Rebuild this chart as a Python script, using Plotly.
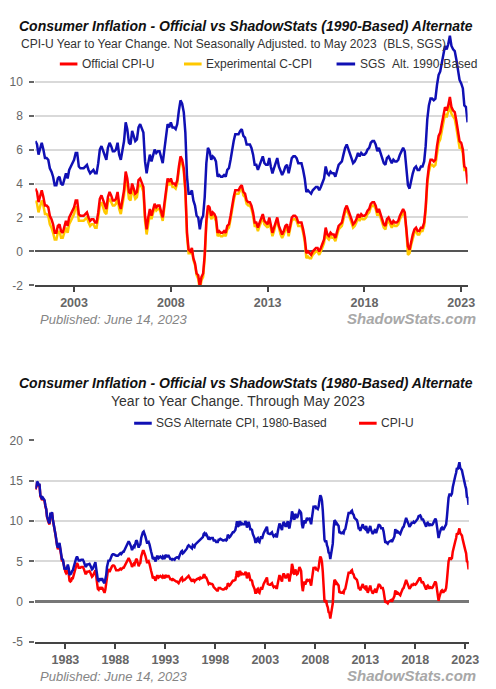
import plotly.graph_objects as go
import pandas as pd

# ---------------- DATA ----------------
# Official CPI-U, year-to-year % change, monthly Jan 1980 .. May 2023
cpi_u = [
    13.9, 14.2, 14.8, 14.7, 14.4, 14.4, 13.1, 12.9, 12.6, 12.8, 12.6, 12.5,  # 1980
    11.8, 11.4, 10.5, 10.0, 9.8, 9.6, 10.8, 10.8, 11.0, 10.1, 9.6, 8.9,      # 1981
    8.4, 7.6, 6.8, 6.5, 6.7, 7.1, 6.4, 5.9, 5.0, 5.1, 4.6, 3.8,              # 1982
    3.7, 3.5, 3.6, 3.9, 3.5, 2.6, 2.5, 2.6, 2.9, 2.9, 3.3, 3.8,              # 1983
    4.2, 4.6, 4.8, 4.6, 4.2, 4.2, 4.2, 4.3, 4.3, 4.3, 4.1, 3.9,              # 1984
    3.5, 3.5, 3.7, 3.7, 3.8, 3.8, 3.6, 3.3, 3.1, 3.2, 3.5, 3.8,              # 1985
    3.9, 3.1, 2.2, 1.6, 1.5, 1.8, 1.6, 1.6, 1.8, 1.5, 1.3, 1.1,              # 1986
    1.5, 2.1, 3.0, 3.8, 3.9, 3.7, 3.9, 4.3, 4.4, 4.5, 4.5, 4.4,              # 1987
    4.0, 3.9, 3.9, 3.9, 3.9, 4.0, 4.1, 4.0, 4.2, 4.2, 4.2, 4.4,              # 1988
    4.7, 4.8, 5.0, 5.1, 5.4, 5.2, 5.0, 4.7, 4.3, 4.5, 4.7, 4.6,              # 1989
    5.2, 5.3, 5.2, 4.7, 4.4, 4.7, 4.8, 5.6, 6.2, 6.3, 6.3, 6.1,              # 1990
    5.7, 5.3, 4.9, 4.9, 5.0, 4.7, 4.4, 3.8, 3.4, 2.9, 3.0, 3.1,              # 1991
    2.6, 2.8, 3.2, 3.2, 3.0, 3.1, 3.2, 3.1, 3.0, 3.2, 3.0, 2.9,              # 1992
    3.3, 3.2, 3.1, 3.2, 3.2, 3.0, 2.8, 2.8, 2.7, 2.8, 2.7, 2.7,              # 1993
    2.5, 2.5, 2.5, 2.4, 2.3, 2.5, 2.8, 2.9, 3.0, 2.6, 2.7, 2.7,              # 1994
    2.8, 2.9, 2.9, 3.1, 3.2, 3.0, 2.8, 2.6, 2.5, 2.8, 2.6, 2.5,              # 1995
    2.7, 2.7, 2.8, 2.9, 2.9, 2.8, 3.0, 2.9, 3.0, 3.0, 3.3, 3.3,              # 1996
    3.0, 3.0, 2.8, 2.5, 2.2, 2.3, 2.2, 2.2, 2.2, 2.1, 1.8, 1.7,              # 1997
    1.6, 1.4, 1.4, 1.4, 1.7, 1.7, 1.7, 1.6, 1.5, 1.5, 1.5, 1.6,              # 1998
    1.7, 1.6, 1.7, 2.3, 2.1, 2.0, 2.1, 2.3, 2.6, 2.6, 2.6, 2.7,              # 1999
    2.7, 3.2, 3.8, 3.1, 3.2, 3.7, 3.7, 3.4, 3.5, 3.4, 3.4, 3.4,              # 2000
    3.7, 3.5, 2.9, 3.3, 3.6, 3.2, 2.7, 2.7, 2.6, 2.1, 1.9, 1.6,              # 2001
    1.1, 1.1, 1.5, 1.6, 1.2, 1.1, 1.5, 1.8, 1.5, 2.0, 2.2, 2.4,              # 2002
    2.6, 3.0, 3.0, 2.2, 2.1, 2.1, 2.1, 2.2, 2.3, 2.0, 1.8, 1.9,              # 2003
    1.9, 1.7, 1.7, 2.3, 3.1, 3.3, 3.0, 2.7, 2.5, 3.2, 3.5, 3.3,              # 2004
    3.0, 3.0, 3.1, 3.5, 2.8, 2.5, 3.2, 3.6, 4.7, 4.3, 3.5, 3.4,              # 2005
    4.0, 3.6, 3.4, 3.5, 4.2, 4.3, 4.1, 3.8, 2.1, 1.3, 2.0, 2.5,              # 2006
    2.1, 2.4, 2.8, 2.6, 2.7, 2.7, 2.4, 2.0, 2.8, 3.5, 4.3, 4.1,              # 2007
    4.3, 4.0, 4.0, 3.9, 4.2, 5.0, 5.6, 5.4, 4.9, 3.7, 1.1, 0.1,              # 2008
    0.0, 0.2, -0.4, -0.7, -1.3, -1.4, -2.1, -1.5, -1.3, -0.2, 1.8, 2.7,      # 2009
    2.6, 2.1, 2.3, 2.2, 2.0, 1.1, 1.2, 1.1, 1.1, 1.2, 1.1, 1.5,              # 2010
    1.6, 2.1, 2.7, 3.2, 3.6, 3.6, 3.6, 3.8, 3.9, 3.5, 3.4, 3.0,              # 2011
    2.9, 2.9, 2.7, 2.3, 1.7, 1.7, 1.4, 1.7, 2.0, 2.2, 1.8, 1.7,              # 2012
    1.6, 2.0, 1.5, 1.1, 1.4, 1.8, 2.0, 1.5, 1.2, 1.0, 1.2, 1.5,              # 2013
    1.6, 1.1, 1.5, 2.0, 2.1, 2.1, 2.0, 1.7, 1.7, 1.7, 1.3, 0.8,              # 2014
    -0.1, 0.0, -0.1, -0.2, 0.0, 0.1, 0.2, 0.2, 0.0, 0.2, 0.5, 0.7,           # 2015
    1.4, 1.0, 0.9, 1.1, 1.0, 1.0, 0.8, 1.1, 1.5, 1.6, 1.7, 2.1,              # 2016
    2.5, 2.7, 2.4, 2.2, 1.9, 1.6, 1.7, 1.9, 2.2, 2.0, 2.2, 2.1,              # 2017
    2.1, 2.2, 2.4, 2.5, 2.8, 2.9, 2.9, 2.7, 2.3, 2.5, 2.2, 1.9,              # 2018
    1.6, 1.5, 1.9, 2.0, 1.8, 1.6, 1.8, 1.7, 1.7, 1.8, 2.1, 2.3,              # 2019
    2.5, 2.3, 1.5, 0.3, 0.1, 0.6, 1.0, 1.3, 1.4, 1.2, 1.2, 1.4,              # 2020
    1.4, 1.7, 2.6, 4.2, 5.0, 5.4, 5.4, 5.3, 5.4, 6.2, 6.8, 7.0,              # 2021
    7.5, 7.9, 8.5, 8.3, 8.6, 9.1, 8.5, 8.3, 8.2, 7.7, 7.1, 6.5,              # 2022
    6.4, 6.0, 5.0, 4.9, 4.0,                                                 # 2023
]

# SGS Alternate CPI, 1980-Based, monthly Jan 1980 .. May 2023
sgs_1980 = [
    14.0, 14.3, 14.9, 14.8, 14.5, 14.5, 13.2, 13.0, 12.7, 12.9, 12.7, 12.6,  # 1980
    11.9, 11.5, 10.6, 10.1, 9.9, 9.7, 10.9, 10.9, 11.1, 10.2, 9.7, 9.0,      # 1981
    8.6, 7.8, 7.0, 6.7, 6.9, 7.3, 6.6, 6.1, 5.2, 5.3, 4.8, 4.0,              # 1982
    4.2, 4.0, 4.2, 4.6, 4.2, 3.4, 3.4, 3.5, 3.8, 3.9, 4.3, 4.8,              # 1983
    5.0, 5.4, 5.6, 5.4, 5.1, 5.1, 5.1, 5.2, 5.2, 5.2, 5.0, 4.8,              # 1984
    4.4, 4.4, 4.6, 4.6, 4.7, 4.7, 4.5, 4.2, 4.0, 4.1, 4.4, 4.7,              # 1985
    4.9, 4.1, 3.3, 2.7, 2.6, 2.9, 2.7, 2.7, 2.9, 2.6, 2.4, 2.3,              # 1986
    2.7, 3.3, 4.3, 5.1, 5.2, 5.0, 5.3, 5.7, 5.8, 5.9, 5.9, 5.8,              # 1987
    5.8, 5.7, 5.7, 5.7, 5.8, 5.9, 6.0, 5.9, 6.1, 6.2, 6.2, 6.4,              # 1988
    6.7, 6.8, 7.1, 7.2, 7.5, 7.3, 7.1, 6.8, 6.4, 6.6, 6.9, 6.8,              # 1989
    7.5, 7.6, 7.5, 7.0, 6.7, 7.0, 7.1, 7.9, 8.5, 8.6, 8.7, 8.5,              # 1990
    8.1, 7.7, 7.3, 7.3, 7.4, 7.1, 6.8, 6.2, 5.8, 5.3, 5.4, 5.5,              # 1991
    5.0, 5.2, 5.6, 5.6, 5.4, 5.5, 5.6, 5.5, 5.4, 5.6, 5.4, 5.3,              # 1992
    5.8, 5.7, 5.6, 5.7, 5.7, 5.5, 5.3, 5.3, 5.2, 5.3, 5.2, 5.2,              # 1993
    5.4, 5.5, 5.5, 5.5, 5.4, 5.7, 6.0, 6.2, 6.3, 6.0, 6.1, 6.2,              # 1994
    6.4, 6.5, 6.6, 6.9, 7.0, 6.9, 6.8, 6.6, 6.6, 7.0, 6.8, 6.8,              # 1995
    7.1, 7.2, 7.4, 7.5, 7.6, 7.6, 7.8, 7.8, 8.0, 8.0, 8.4, 8.5,              # 1996
    8.3, 8.4, 8.2, 8.0, 7.7, 7.9, 7.8, 7.9, 7.9, 7.9, 7.6, 7.6,              # 1997
    7.6, 7.4, 7.4, 7.4, 7.7, 7.7, 7.8, 7.7, 7.6, 7.6, 7.6, 7.7,              # 1998
    7.7, 7.6, 7.7, 8.3, 8.1, 8.0, 8.1, 8.3, 8.6, 8.6, 8.6, 8.7,              # 1999
    8.9, 9.4, 10.0, 9.3, 9.4, 9.9, 9.9, 9.6, 9.7, 9.6, 9.6, 9.6,             # 2000
    10.0, 9.8, 9.2, 9.6, 9.9, 9.5, 9.0, 9.0, 8.9, 8.4, 8.2, 7.9,             # 2001
    7.4, 7.4, 7.8, 7.9, 7.5, 7.4, 7.8, 8.1, 7.8, 8.3, 8.5, 8.7,              # 2002
    8.9, 9.3, 9.3, 8.5, 8.4, 8.4, 8.4, 8.5, 8.6, 8.3, 8.1, 8.2,              # 2003
    8.3, 8.1, 8.1, 8.7, 9.5, 9.7, 9.4, 9.1, 8.9, 9.6, 9.9, 9.7,              # 2004
    9.4, 9.4, 9.6, 10.0, 9.3, 9.1, 9.8, 10.2, 11.2, 10.9, 10.3, 10.2,        # 2005
    10.9, 10.6, 10.4, 10.6, 11.2, 11.3, 11.2, 11.0, 9.6, 9.1, 9.6, 10.1,     # 2006
    9.7, 10.0, 10.4, 10.2, 10.3, 10.3, 10.0, 9.6, 10.4, 11.1, 11.9, 11.7,    # 2007
    11.9, 11.6, 11.6, 11.5, 11.8, 12.6, 13.2, 13.0, 12.5, 11.3, 8.7, 7.7,    # 2008
    7.4, 7.6, 7.0, 6.7, 6.1, 6.0, 5.3, 5.9, 6.1, 7.2, 9.2, 10.1,             # 2009
    10.0, 9.5, 9.7, 9.6, 9.4, 8.5, 8.6, 8.5, 8.5, 8.6, 8.5, 8.9,             # 2010
    9.0, 9.5, 10.1, 10.6, 11.0, 11.0, 11.0, 11.2, 11.3, 10.9, 10.8, 10.4,    # 2011
    10.3, 10.3, 10.1, 9.7, 9.1, 9.1, 8.8, 9.1, 9.4, 9.6, 9.2, 9.1,           # 2012
    9.0, 9.4, 8.9, 8.5, 8.8, 9.2, 9.4, 8.9, 8.6, 8.4, 8.6, 8.9,              # 2013
    9.0, 8.5, 8.9, 9.4, 9.5, 9.5, 9.4, 9.1, 9.1, 9.1, 8.7, 8.2,              # 2014
    7.3, 7.4, 7.3, 7.2, 7.4, 7.5, 7.6, 7.6, 7.4, 7.6, 7.9, 8.1,              # 2015
    9.0, 8.6, 8.5, 8.7, 8.6, 8.6, 8.4, 8.7, 9.1, 9.2, 9.3, 9.7,              # 2016
    10.2, 10.4, 10.1, 9.9, 9.6, 9.3, 9.4, 9.6, 9.9, 9.7, 9.9, 9.8,           # 2017
    9.9, 10.0, 10.2, 10.3, 10.6, 10.7, 10.7, 10.5, 10.1, 10.3, 10.0, 9.7,    # 2018
    9.4, 9.3, 9.7, 9.8, 9.6, 9.4, 9.6, 9.5, 9.5, 9.6, 9.9, 10.1,             # 2019
    10.3, 10.1, 9.3, 8.1, 7.9, 8.4, 8.8, 9.1, 9.2, 9.0, 9.0, 9.2,            # 2020
    9.3, 9.6, 10.5, 12.1, 12.9, 13.3, 13.3, 13.2, 13.4, 14.2, 14.8, 15.0,    # 2021
    15.6, 16.0, 16.6, 16.4, 16.7, 17.3, 16.6, 16.4, 16.3, 15.8, 15.2, 14.6,  # 2022
    14.4, 14.0, 13.0, 12.9, 12.0,                                            # 2023
]

# Experimental C-CPI (chained CPI-U), monthly Jan 2001 .. Apr 2023
c_cpi = [
    3.0, 2.8, 2.3, 2.7, 3.0, 2.7, 2.2, 2.2, 2.1, 1.6, 1.4, 1.1,              # 2001
    0.7, 0.7, 1.1, 1.2, 0.8, 0.8, 1.1, 1.4, 1.1, 1.6, 1.8, 2.0,              # 2002
    2.2, 2.6, 2.6, 1.8, 1.8, 1.8, 1.8, 1.9, 2.0, 1.7, 1.5, 1.6,              # 2003
    1.6, 1.4, 1.4, 2.0, 2.7, 2.9, 2.6, 2.3, 2.2, 2.9, 3.1, 2.9,              # 2004
    2.7, 2.7, 2.8, 3.2, 2.5, 2.2, 2.9, 3.3, 4.4, 3.9, 3.1, 3.0,              # 2005
    3.7, 3.3, 3.1, 3.2, 3.8, 3.9, 3.8, 3.5, 1.8, 1.0, 1.7, 2.2,              # 2006
    1.9, 2.2, 2.6, 2.4, 2.5, 2.5, 2.2, 1.8, 2.6, 3.3, 4.1, 3.9,              # 2007
    4.1, 3.8, 3.8, 3.7, 4.0, 4.8, 5.4, 5.2, 4.7, 3.5, 0.9, -0.1,             # 2008
    -0.1, 0.1, -0.5, -0.8, -1.4, -1.6, -2.3, -1.7, -1.5, -0.4, 1.6, 2.5,     # 2009
    2.4, 1.9, 2.1, 2.0, 1.8, 0.9, 1.0, 0.9, 0.9, 1.0, 0.9, 1.3,              # 2010
    1.4, 1.9, 2.5, 3.0, 3.4, 3.4, 3.4, 3.6, 3.7, 3.3, 3.2, 2.8,              # 2011
    2.7, 2.7, 2.5, 2.1, 1.5, 1.5, 1.2, 1.5, 1.8, 2.0, 1.6, 1.5,              # 2012
    1.4, 1.8, 1.3, 0.9, 1.2, 1.6, 1.8, 1.3, 1.0, 0.8, 1.0, 1.3,              # 2013
    1.4, 0.9, 1.3, 1.8, 1.9, 1.9, 1.8, 1.5, 1.5, 1.5, 1.1, 0.6,              # 2014
    -0.4, -0.3, -0.4, -0.4, -0.2, -0.1, 0.0, 0.0, -0.2, 0.0, 0.3, 0.5,       # 2015
    1.2, 0.8, 0.7, 0.9, 0.8, 0.8, 0.6, 0.9, 1.3, 1.4, 1.5, 1.9,              # 2016
    2.3, 2.5, 2.2, 2.0, 1.7, 1.4, 1.5, 1.7, 2.0, 1.8, 2.0, 1.9,              # 2017
    1.9, 2.0, 2.2, 2.3, 2.6, 2.7, 2.7, 2.5, 2.1, 2.3, 2.0, 1.7,              # 2018
    1.4, 1.3, 1.7, 1.8, 1.6, 1.4, 1.6, 1.5, 1.5, 1.6, 1.9, 2.1,              # 2019
    2.3, 2.1, 1.3, -0.2, -0.1, 0.4, 0.8, 1.1, 1.2, 1.0, 1.0, 1.2,            # 2020
    1.2, 1.5, 2.4, 4.0, 4.7, 5.1, 5.1, 5.0, 5.1, 5.9, 6.4, 6.6,              # 2021
    7.1, 7.5, 8.1, 7.9, 8.2, 8.6, 8.1, 7.9, 7.8, 7.3, 6.7, 6.1,              # 2022
    6.1, 5.8, 4.8, 4.8,                                                      # 2023
]

# SGS Alternate CPI, 1990-Based, monthly Jan 2001 .. May 2023
sgs_1990 = [
    6.5, 6.3, 5.7, 6.1, 6.4, 6.0, 5.5, 5.5, 5.4, 4.9, 4.7, 4.4,              # 2001
    3.9, 3.9, 4.3, 4.4, 4.0, 3.9, 4.3, 4.6, 4.3, 4.8, 5.0, 5.2,              # 2002
    5.4, 5.8, 5.8, 5.0, 4.9, 4.9, 4.9, 5.0, 5.1, 4.8, 4.6, 4.7,              # 2003
    4.8, 4.6, 4.6, 5.2, 6.0, 6.2, 5.9, 5.6, 5.4, 6.1, 6.4, 6.2,              # 2004
    5.9, 5.9, 6.0, 6.4, 5.7, 5.4, 6.1, 6.5, 7.6, 7.2, 6.4, 6.3,              # 2005
    7.1, 6.7, 6.5, 6.6, 7.3, 7.5, 7.3, 7.0, 5.3, 4.6, 5.2, 5.7,              # 2006
    5.3, 5.6, 6.0, 5.8, 5.9, 5.9, 5.6, 5.2, 6.0, 6.7, 7.5, 7.3,              # 2007
    7.6, 7.3, 7.3, 7.2, 7.5, 8.3, 8.9, 8.7, 8.2, 7.0, 4.4, 3.4,              # 2008
    3.4, 3.6, 3.0, 2.7, 2.1, 2.0, 1.3, 1.9, 2.1, 3.2, 5.2, 6.1,              # 2009
    5.9, 5.4, 5.6, 5.5, 5.3, 4.4, 4.5, 4.4, 4.4, 4.5, 4.4, 4.8,              # 2010
    4.9, 5.4, 6.0, 6.5, 6.9, 6.9, 6.9, 7.1, 7.2, 6.8, 6.7, 6.3,              # 2011
    6.3, 6.3, 6.1, 5.7, 5.1, 5.1, 4.8, 5.1, 5.4, 5.6, 5.2, 5.1,              # 2012
    5.1, 5.5, 5.0, 4.6, 4.9, 5.3, 5.5, 5.0, 4.7, 4.5, 4.7, 5.0,              # 2013
    5.1, 4.6, 5.0, 5.5, 5.6, 5.6, 5.5, 5.2, 5.2, 5.2, 4.8, 4.3,              # 2014
    3.5, 3.6, 3.5, 3.4, 3.6, 3.7, 3.8, 3.8, 3.6, 3.8, 4.1, 4.3,              # 2015
    5.0, 4.6, 4.5, 4.7, 4.6, 4.6, 4.4, 4.7, 5.1, 5.2, 5.3, 5.7,              # 2016
    6.1, 6.3, 6.0, 5.8, 5.5, 5.2, 5.3, 5.5, 5.8, 5.6, 5.8, 5.7,              # 2017
    5.7, 5.8, 6.0, 6.1, 6.4, 6.5, 6.5, 6.3, 5.9, 6.1, 5.8, 5.5,              # 2018
    5.2, 5.1, 5.5, 5.6, 5.4, 5.2, 5.4, 5.3, 5.3, 5.4, 5.7, 5.9,              # 2019
    6.1, 5.9, 5.1, 3.9, 3.7, 4.2, 4.6, 4.9, 5.0, 4.8, 4.8, 5.0,              # 2020
    5.0, 5.3, 6.2, 7.8, 8.6, 9.0, 9.0, 8.9, 9.0, 9.8, 10.4, 10.6,            # 2021
    11.1, 11.5, 12.1, 11.9, 12.2, 12.7, 12.1, 11.9, 11.8, 11.3, 10.7, 10.1,  # 2022
    9.9, 9.6, 8.6, 8.5, 7.6,                                                 # 2023
]

# monthly date index
dates_1980 = pd.date_range("1980-01-01", periods=len(cpi_u), freq="MS")
start_2001 = dates_1980.get_loc(pd.Timestamp("2001-01-01"))
dates_2001 = dates_1980[start_2001:]
cpi_u_2001 = cpi_u[start_2001:]

ticks_top = [-2, 0, 2, 4, 6, 8, 10]
ticks_bottom = [-5, 0, 5, 10, 15, 20]

# ---------------- STYLE ----------------
W, H = 496, 689
FONT = "Liberation Sans, Arial, sans-serif"
RED = "#ff0000"
GOLD = "#ffc800"
BLUE = "#1010b4"


def fx(x):
    """pixel x -> paper fraction"""
    return x / W


def fy(y):
    """pixel y (from top) -> paper fraction"""
    return 1 - y / H


fig = go.Figure()

# top chart
fig.add_trace(go.Scatter(x=dates_2001[:len(c_cpi)], y=c_cpi, mode="lines",
                         line=dict(color=GOLD, width=2.5), xaxis="x", yaxis="y",
                         name="Experimental C-CPI"))
fig.add_trace(go.Scatter(x=dates_2001, y=cpi_u_2001, mode="lines",
                         line=dict(color=RED, width=2.5), xaxis="x", yaxis="y",
                         name="Official CPI-U"))
fig.add_trace(go.Scatter(x=dates_2001, y=sgs_1990, mode="lines",
                         line=dict(color=BLUE, width=2.5), xaxis="x", yaxis="y",
                         name="SGS  Alt. 1990-Based"))

# bottom chart
fig.add_trace(go.Scatter(x=dates_1980, y=cpi_u, mode="lines",
                         line=dict(color=RED, width=2.5), xaxis="x2", yaxis="y2",
                         name="CPI-U"))
fig.add_trace(go.Scatter(x=dates_1980, y=sgs_1980, mode="lines",
                         line=dict(color=BLUE, width=2.5), xaxis="x2", yaxis="y2",
                         name="SGS Alternate CPI, 1980-Based"))

xcommon = dict(type="date", showgrid=False, zeroline=False, showline=True,
               linecolor="#444444", linewidth=2, ticks="outside", ticklen=5,
               tickwidth=1.5, tickcolor="#444444", tickformat="%Y", dtick="M60",
               tickfont=dict(family=FONT, size=12.5, color="#666666", weight="bold"),
               ticklabelstandoff=0, fixedrange=True)
ycommon = dict(showgrid=True, gridcolor="#d9d9d9", gridwidth=1.5,
               zeroline=True, zerolinecolor="#555555", zerolinewidth=2,
               showline=False, ticks="outside", ticklen=5, tickwidth=1.5,
               tickcolor="#666666", ticklabelstandoff=4,
               tickfont=dict(family=FONT, size=12, color="#666666"), fixedrange=True)

fig.update_layout(
    width=W, height=H, margin=dict(l=0, r=0, t=0, b=0),
    paper_bgcolor="white", plot_bgcolor="white", showlegend=False,
    font=dict(family=FONT),
    xaxis=dict(xcommon, domain=[fx(28), fx(470)], anchor="y",
               range=["2001-01-01", "2023-05-01"], tick0="2003-01-01"),
    yaxis=dict(ycommon, domain=[fy(276), fy(19.5)], anchor="x", range=[-2, 12.8],
               tickvals=ticks_top, ticktext=[str(v) for v in ticks_top]),
    xaxis2=dict(xcommon, domain=[fx(28), fx(471)], anchor="y2",
                range=["1980-01-01", "2023-05-01"], tick0="1983-01-01"),
    yaxis2=dict(ycommon, domain=[fy(640), fy(434.3)], anchor="x2", range=[-5, 20],
                tickvals=ticks_bottom, ticktext=[str(v) for v in ticks_bottom],
                zerolinecolor="#777777", zerolinewidth=2.5),
)


def text(x, y, s, size, color="#333333", anchor="left", **fontkw):
    fig.add_annotation(x=fx(x), y=fy(y), xref="paper", yref="paper", text=s,
                       showarrow=False, xanchor=anchor, yanchor="middle",
                       font=dict(family=FONT, size=size, color=color, **fontkw))


def legline(x0, x1, y, color):
    fig.add_shape(type="line", xref="paper", yref="paper", x0=fx(x0), x1=fx(x1),
                  y0=fy(y), y1=fy(y), line=dict(color=color, width=3))


# top chart texts
text(9, 11, "Consumer Inflation - Official vs ShadowStats (1990-Based) Alternate", 14,
     color="#111111", weight="bold", style="italic")
text(11, 30, "CPI-U Year to Year Change. Not Seasonally Adjusted. to May 2023 \u00a0(BLS, SGS)", 12)
legline(53, 71, 50, RED)
text(74, 50, "Official CPI-U", 12)
legline(180, 198, 50, GOLD)
text(200, 50, "Experimental C-CPI", 12)
legline(336, 355, 50, BLUE)
text(358, 50, "SGS \u00a0Alt. 1990-Based", 12)
text(31, 311, "Published: June 14, 2023", 13, color="#858585", style="italic")
text(345, 310, "ShadowStats.com", 15, color="#a8a8a8", weight="bold", style="italic")

# bottom chart texts
text(9, 375.5, "Consumer Inflation - Official vs ShadowStats (1980-Based) Alternate", 14,
     color="#111111", weight="bold", style="italic")
text(235, 394, "Year to Year Change. Through May 2023", 14, anchor="center")
legline(129, 147, 416.7, BLUE)
text(149, 416.7, "SGS Alternate CPI, 1980-Based", 12)
legline(359, 377, 416.7, RED)
text(379, 416.7, "CPI-U", 12)
text(31, 675, "Published: June 14, 2023", 13, color="#858585", style="italic")
text(345, 674, "ShadowStats.com", 15, color="#a8a8a8", weight="bold", style="italic")

fig.write_html("out.html")
